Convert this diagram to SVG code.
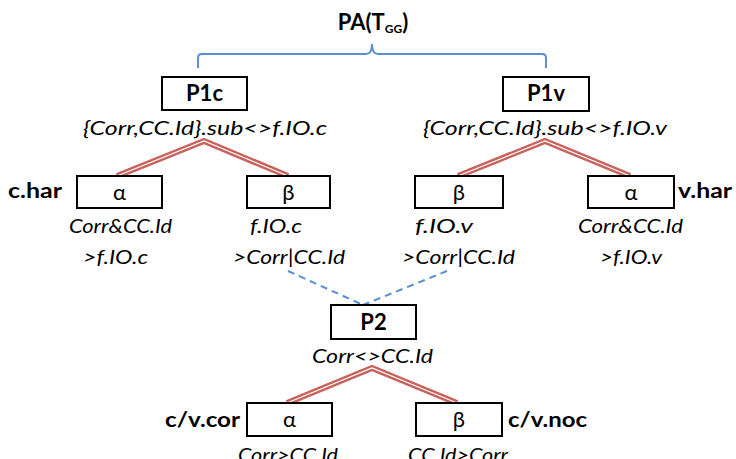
<svg xmlns="http://www.w3.org/2000/svg" width="736" height="459" viewBox="0 0 736 459">
<style>
.box{fill:#fff;stroke:#000;stroke-width:2}
.t{font-family:Lato,"Open Sans","Liberation Sans",sans-serif;fill:#000}
.b{font-weight:bold;font-size:22px}
.lb{font-weight:bold;font-size:21px}
.i{font-style:italic;font-size:20px}
.g{font-size:22px}
.red{fill:none;stroke:#c9625c;stroke-width:6;stroke-linejoin:miter}
.gap{fill:none;stroke:#fff;stroke-width:1.2;stroke-linejoin:miter}
.blue{fill:none;stroke:#5b8fd0;stroke-width:2}
.dash{fill:none;stroke:#5b8fd0;stroke-width:2;stroke-dasharray:7 5}
</style>
<g id="title">
<text class="t b" x="373" y="30" text-anchor="middle">PA(T<tspan font-size="12" dy="3">GG</tspan><tspan dy="-3">)</tspan></text>
</g>
<g id="connectors">
<path class="blue" d="M198,68 V58 Q198,54 202,54 H366 Q372,54 372,44 Q372,54 378,54 H542 Q546,54 546,58 V68"/>
<path class="red" d="M117,176 L204,141 L288,176"/>
<path class="gap" d="M117,176 L204,141 L288,176"/>
<path class="red" d="M458,176 L545,141 L630,176"/>
<path class="gap" d="M458,176 L545,141 L630,176"/>
<path class="red" d="M287,403 L372,368 L457,403"/>
<path class="gap" d="M287,403 L372,368 L457,403"/>
<path class="dash" d="M288,271 L363,305"/>
<path class="dash" d="M447,271 L363,305"/>
</g>
<g id="P1c">
<rect class="box" x="162" y="77" width="85" height="33"/>
<text class="t b" x="204.5" y="101" text-anchor="middle">P1c</text>
<text class="t i" x="83" y="135" textLength="244" lengthAdjust="spacingAndGlyphs">{Corr,CC.Id}.sub&lt;&gt;f.IO.c</text>
</g>
<g id="P1c-alpha">
<rect class="box" x="77" y="176" width="85" height="32"/>
<text class="t g" x="119.5" y="200" text-anchor="middle">α</text>
<text class="t lb" x="8" y="198" textLength="54" lengthAdjust="spacingAndGlyphs">c.har</text>
<text class="t i" x="69" y="233" textLength="103" lengthAdjust="spacingAndGlyphs">Corr&amp;CC.Id</text>
<text class="t i" x="83" y="264" textLength="65" lengthAdjust="spacingAndGlyphs">&gt;f.IO.c</text>
</g>
<g id="P1c-beta">
<rect class="box" x="247" y="176" width="83" height="32"/>
<text class="t g" x="288.5" y="200" text-anchor="middle">β</text>
<text class="t i" x="250" y="233" textLength="52" lengthAdjust="spacingAndGlyphs">f.IO.c</text>
<text class="t i" x="233" y="264" textLength="112" lengthAdjust="spacingAndGlyphs">&gt;Corr|CC.Id</text>
</g>
<g id="P1v">
<rect class="box" x="503" y="77" width="86" height="34"/>
<text class="t b" x="546" y="101" text-anchor="middle">P1v</text>
<text class="t i" x="423" y="135" textLength="244" lengthAdjust="spacingAndGlyphs">{Corr,CC.Id}.sub&lt;&gt;f.IO.v</text>
</g>
<g id="P1v-beta">
<rect class="box" x="415" y="176" width="88" height="32"/>
<text class="t g" x="459" y="200" text-anchor="middle">β</text>
<text class="t i" x="415" y="233" textLength="58" lengthAdjust="spacingAndGlyphs">f.IO.v</text>
<text class="t i" x="402" y="264" textLength="113" lengthAdjust="spacingAndGlyphs">&gt;Corr|CC.Id</text>
</g>
<g id="P1v-alpha">
<rect class="box" x="588" y="176" width="86" height="32"/>
<text class="t g" x="631" y="200" text-anchor="middle">α</text>
<text class="t lb" x="678" y="198" textLength="54" lengthAdjust="spacingAndGlyphs">v.har</text>
<text class="t i" x="578" y="233" textLength="105" lengthAdjust="spacingAndGlyphs">Corr&amp;CC.Id</text>
<text class="t i" x="600" y="264" textLength="62" lengthAdjust="spacingAndGlyphs">&gt;f.IO.v</text>
</g>
<g id="P2">
<rect class="box" x="331" y="305" width="85" height="34"/>
<text class="t b" x="373.5" y="330" text-anchor="middle">P2</text>
<text class="t i" x="312" y="363" textLength="121" lengthAdjust="spacingAndGlyphs">Corr&lt;&gt;CC.Id</text>
</g>
<g id="P2-alpha">
<rect class="box" x="247" y="403" width="85" height="33"/>
<text class="t g" x="289.5" y="427" text-anchor="middle">α</text>
<text class="t lb" x="165" y="427" textLength="75" lengthAdjust="spacingAndGlyphs">c/v.cor</text>
<text class="t i" x="238" y="462" textLength="100" lengthAdjust="spacingAndGlyphs">Corr&gt;CC.Id</text>
</g>
<g id="P2-beta">
<rect class="box" x="416" y="403" width="86" height="33"/>
<text class="t g" x="459" y="427" text-anchor="middle">β</text>
<text class="t lb" x="508" y="427" textLength="79" lengthAdjust="spacingAndGlyphs">c/v.noc</text>
<text class="t i" x="408" y="462" textLength="100" lengthAdjust="spacingAndGlyphs">CC.Id&gt;Corr</text>
</g>
</svg>
